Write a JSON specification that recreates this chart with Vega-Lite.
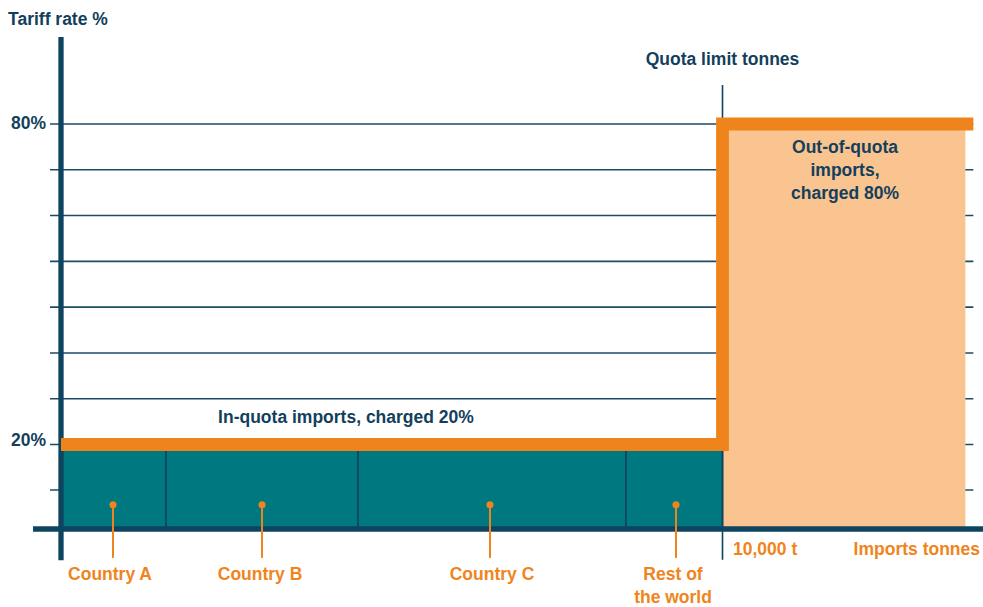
{
  "$schema": "https://vega.github.io/schema/vega-lite/v6.json",
  "width": 983,
  "height": 607,
  "autosize": {"type": "none"},
  "padding": 0,
  "background": "white",
  "view": {"stroke": null},
  "config": {"axis": {"disable": true}, "legend": {"disable": true}, "text": {"font": "Liberation Sans", "fontWeight": "bold", "fontSize": 17.5}},
  "data": {"values": [{}]},
  "datasets": {
    "grid": [{"rate": 10}, {"rate": 20}, {"rate": 28.571}, {"rate": 37.143}, {"rate": 45.714}, {"rate": 54.286}, {"rate": 62.857}, {"rate": 71.429}, {"rate": 80}],
    "outquota": [{"start": 10000, "end": 13672, "base": 0, "rate": 80}],
    "countries": [
      {"country": "Country A", "start": 0, "end": 1587, "base": 0, "rate": 20, "mid": 786, "label": "Country A", "lx": 741},
      {"country": "Country B", "start": 1587, "end": 4490, "base": 0, "rate": 20, "mid": 3039, "label": "Country B", "lx": 3009},
      {"country": "Country C", "start": 4490, "end": 8541, "base": 0, "rate": 20, "mid": 6485, "label": "Country C", "lx": 6515},
      {"country": "Rest of the world", "start": 8541, "end": 10000, "base": 0, "rate": 20, "mid": 9297, "label": ["Rest of", "the world"], "lx": 9252}
    ],
    "step": [
      {"i": 0, "tonnes": 0, "rate": 20},
      {"i": 1, "tonnes": 10000, "rate": 20},
      {"i": 2, "tonnes": 10000, "rate": 80},
      {"i": 3, "tonnes": 13792, "rate": 80}
    ]
  },
  "layer": [
    {
      "data": {"name": "grid"},
      "mark": {"type": "rule", "color": "#1d4b66", "strokeWidth": 1.6},
      "encoding": {
        "x": {"datum": -166, "type": "quantitative", "scale": {"domain": [0, 10000], "range": [61, 722.5], "nice": false, "zero": false}},
        "x2": {"datum": 13792},
        "y": {"field": "rate", "type": "quantitative", "scale": {"domain": [0, 10, 20, 80], "range": [529, 490, 444.5, 124], "nice": false, "zero": false}}
      }
    },
    {
      "data": {"name": "outquota"},
      "mark": {"type": "rect", "color": "#f9c490"},
      "encoding": {
        "x": {"field": "start", "type": "quantitative"},
        "x2": {"field": "end"},
        "y": {"field": "base", "type": "quantitative"},
        "y2": {"field": "rate"}
      }
    },
    {
      "data": {"name": "countries"},
      "mark": {"type": "rect", "color": "#007880", "stroke": "#0e4460", "strokeWidth": 1.6},
      "encoding": {
        "x": {"field": "start", "type": "quantitative"},
        "x2": {"field": "end"},
        "y": {"field": "base", "type": "quantitative"},
        "y2": {"field": "rate"}
      }
    },
    {
      "mark": {"type": "rule", "color": "#0e4460", "strokeWidth": 1.6},
      "encoding": {
        "x": {"datum": 10000, "type": "quantitative"},
        "y": {"datum": -7.9, "type": "quantitative"},
        "y2": {"datum": 87.3}
      }
    },
    {
      "mark": {"type": "rule", "color": "#0e4460", "strokeWidth": 5.3},
      "encoding": {
        "x": {"datum": 0, "type": "quantitative"},
        "y": {"datum": -8, "type": "quantitative"},
        "y2": {"datum": 96.3}
      }
    },
    {
      "mark": {"type": "rule", "color": "#0e4460", "strokeWidth": 5.5},
      "encoding": {
        "x": {"datum": -423, "type": "quantitative"},
        "x2": {"datum": 13943},
        "y": {"datum": 0, "type": "quantitative"}
      }
    },
    {
      "data": {"name": "step"},
      "mark": {"type": "line", "color": "#f0841c", "strokeWidth": 12.8, "strokeJoin": "miter", "strokeCap": "butt"},
      "encoding": {
        "x": {"field": "tonnes", "type": "quantitative"},
        "y": {"field": "rate", "type": "quantitative"},
        "order": {"field": "i"}
      }
    },
    {
      "data": {"name": "countries"},
      "mark": {"type": "rule", "color": "#f0841c", "strokeWidth": 2},
      "encoding": {
        "x": {"field": "mid", "type": "quantitative"},
        "y": {"datum": 6.2, "type": "quantitative"},
        "y2": {"datum": -7.4}
      }
    },
    {
      "data": {"name": "countries"},
      "mark": {"type": "point", "filled": true, "color": "#f0841c", "opacity": 1, "size": 50},
      "encoding": {
        "x": {"field": "mid", "type": "quantitative"},
        "y": {"datum": 6.2, "type": "quantitative"}
      }
    },
    {
      "data": {"name": "countries"},
      "mark": {"type": "text", "color": "#f0841c", "align": "center", "baseline": "middle", "lineHeight": 23, "dy": -1},
      "encoding": {
        "x": {"field": "lx", "type": "quantitative"},
        "y": {"datum": -12, "type": "quantitative"},
        "text": {"field": "label"}
      }
    },
    {
      "mark": {"type": "text", "color": "#133f5c", "align": "right", "baseline": "middle"},
      "encoding": {
        "x": {"datum": -227, "type": "quantitative"},
        "y": {"datum": 80, "type": "quantitative"},
        "text": {"value": "80%"}
      }
    },
    {
      "mark": {"type": "text", "color": "#133f5c", "align": "right", "baseline": "middle", "dy": -4},
      "encoding": {
        "x": {"datum": -227, "type": "quantitative"},
        "y": {"datum": 20, "type": "quantitative"},
        "text": {"value": "20%"}
      }
    },
    {
      "mark": {"type": "text", "color": "#133f5c", "align": "left", "baseline": "middle"},
      "encoding": {
        "x": {"datum": -801, "type": "quantitative"},
        "y": {"datum": 99.5, "type": "quantitative"},
        "text": {"value": "Tariff rate %"}
      }
    },
    {
      "mark": {"type": "text", "color": "#133f5c", "align": "center", "baseline": "middle"},
      "encoding": {
        "x": {"datum": 10000, "type": "quantitative"},
        "y": {"datum": 92, "type": "quantitative"},
        "text": {"value": "Quota limit tonnes"}
      }
    },
    {
      "mark": {"type": "text", "color": "#133f5c", "align": "center", "baseline": "middle"},
      "encoding": {
        "x": {"datum": 4308, "type": "quantitative"},
        "y": {"datum": 25, "type": "quantitative"},
        "text": {"value": "In-quota imports, charged 20%"}
      }
    },
    {
      "mark": {"type": "text", "color": "#133f5c", "align": "center", "baseline": "middle", "lineHeight": 23},
      "encoding": {
        "x": {"datum": 11852, "type": "quantitative"},
        "y": {"datum": 75.5, "type": "quantitative"},
        "text": {"value": ["Out-of-quota", "imports,", "charged 80%"]}
      }
    },
    {
      "mark": {"type": "text", "color": "#f0841c", "align": "left", "baseline": "middle"},
      "encoding": {
        "x": {"datum": 10159, "type": "quantitative"},
        "y": {"datum": -5.4, "type": "quantitative"},
        "text": {"value": "10,000 t"}
      }
    },
    {
      "mark": {"type": "text", "color": "#f0841c", "align": "right", "baseline": "middle"},
      "encoding": {
        "x": {"datum": 13893, "type": "quantitative"},
        "y": {"datum": -5.4, "type": "quantitative"},
        "text": {"value": "Imports tonnes"}
      }
    }
  ]
}
